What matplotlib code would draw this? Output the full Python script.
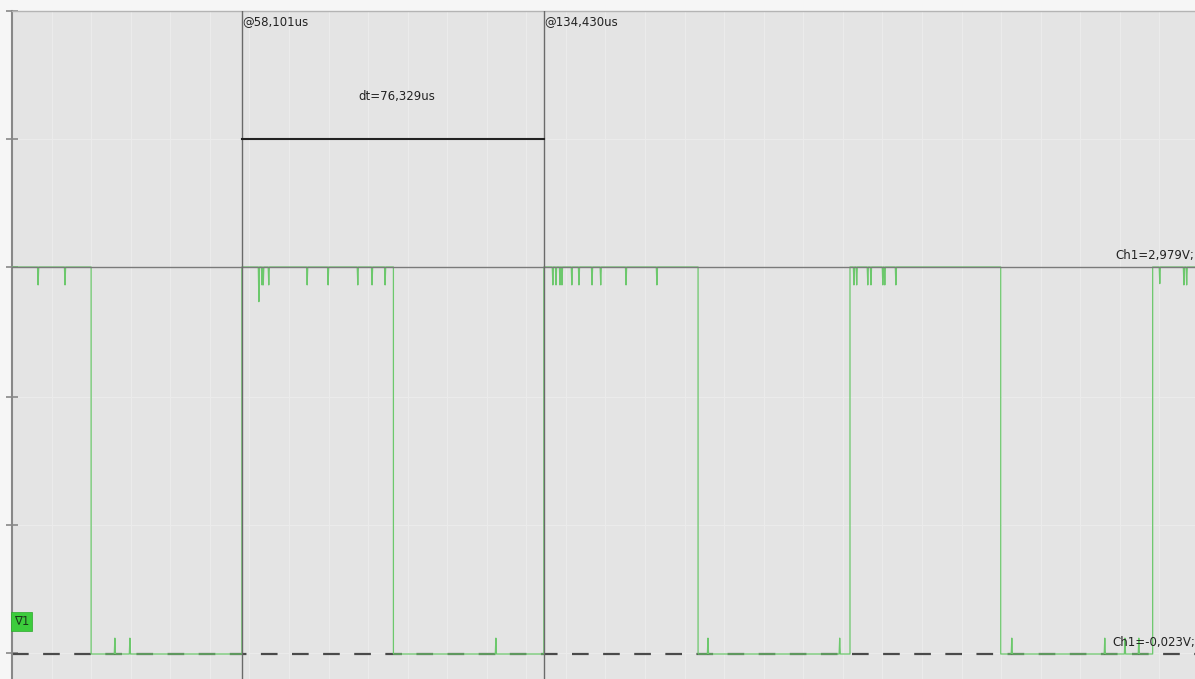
import numpy as np
import matplotlib
matplotlib.use("Agg")
import matplotlib.pyplot as plt

# niveles de referencia (V)
nivel_alto = 2.979
nivel_bajo = -0.023

# flancos de la senal (us), empieza en alto
flancos = [20.0, 58.1, 96.4, 134.43, 173.4, 211.8, 249.9, 288.3]

# glitches en nivel alto (us, V)
glitch_alto_t = [6.6, 13.4, 62.4, 63.2, 63.5, 64.9, 74.6, 79.9, 87.4, 91.0, 94.3,
                 136.7, 137.5, 138.5, 139.0, 141.5, 143.3, 146.6, 148.8, 155.2, 163.0,
                 212.8, 213.5, 216.3, 217.1, 220.1, 220.6, 223.4,
                 290.1, 296.2, 296.9]
glitch_alto_v = [2.84, 2.84, 2.71, 2.84, 2.84, 2.84, 2.84, 2.84, 2.84, 2.84, 2.84,
                 2.84, 2.84, 2.84, 2.84, 2.84, 2.84, 2.84, 2.84, 2.84, 2.84,
                 2.84, 2.84, 2.84, 2.84, 2.84, 2.84, 2.84,
                 2.85, 2.84, 2.84]

# glitches en nivel bajo (us, V)
glitch_bajo_t = [26.0, 29.8, 122.3, 175.9, 209.2, 252.7, 276.2, 281.3, 284.8]
glitch_bajo_v = [0.10, 0.10, 0.10, 0.10, 0.10, 0.10, 0.10, 0.10, 0.10]

# cursores
cursor_t = [58.101, 134.430]
cursor_txt = ["@58,101us", "@134,430us"]
dt_txt = "dt=76,329us"

# divisiones verticales de la pantalla (V)
div_v = [4.965, 3.972, 2.979, 1.970, 0.977, -0.015]

t_fin = 299.0
v_min, v_max = -0.217, 4.965


def Armar_Traza():
    # arma la traza con los flancos y los glitches
    bordes = [0.0] + flancos + [t_fin]
    ts = []
    vs = []
    for i in range(len(bordes) - 1):
        nivel = nivel_alto if i % 2 == 0 else nivel_bajo
        if i % 2 == 0:
            gt, gv = glitch_alto_t, glitch_alto_v
        else:
            gt, gv = glitch_bajo_t, glitch_bajo_v
        ts.append(bordes[i]); vs.append(nivel)
        for t, v in zip(gt, gv):
            if bordes[i] < t < bordes[i + 1]:
                ts += [t - 0.15, t, t + 0.15]
                vs += [nivel, v, nivel]
        ts.append(bordes[i + 1]); vs.append(nivel)
    return np.array(ts), np.array(vs)


fig = plt.figure(figsize=(11.95, 6.79), dpi=100, facecolor='#f6f6f6')
ax = fig.add_axes([12 / 1195, 0, 1183 / 1195, 668 / 679])
ax.set_facecolor('#e4e4e4')
ax.set_xlim(0, t_fin)
ax.set_ylim(v_min, v_max)

# grilla tenue
ax.set_xticks(np.arange(0, 300, 10))
ax.set_yticks(div_v)
ax.grid(True, color='#ebebeb', lw=0.8)
ax.set_axisbelow(True)
ax.tick_params(axis='x', length=0, labelbottom=False)
ax.tick_params(axis='y', direction='inout', length=8, width=1.2, color='#888888', labelleft=False)

for s in ['right', 'bottom']:
    ax.spines[s].set_visible(False)
ax.spines['left'].set_color('#888888')
ax.spines['left'].set_linewidth(1.5)
ax.spines['top'].set_color('#b4b4b4')
ax.spines['top'].set_linewidth(1.0)

# traza
ts, vs = Armar_Traza()
ax.plot(ts, vs, color='#6cc86c', lw=0.9, zorder=3)

# referencias
ax.axhline(nivel_alto, color='#7a7a7a', lw=1.0, zorder=4)
ax.axhline(nivel_bajo, color='#4a4a4a', lw=1.6, linestyle=(0, (7.5, 6.5)), zorder=2)

# cursores
for t, txt in zip(cursor_t, cursor_txt):
    ax.axvline(t, color='#6a6a6a', lw=1.0, zorder=4)
    ax.text(t + 0.1, 4.88, txt, fontsize=8.5, color='#222222', ha='left', va='center')
ax.plot(cursor_t, [div_v[1], div_v[1]], color='#222222', lw=1.5, zorder=4)
ax.text(sum(cursor_t) / 2 + 1.0, 4.30, dt_txt, fontsize=8.5, color='#222222', ha='center', va='center')

ax.text(278.9, nivel_alto + 0.09, "Ch1=2,979V;", fontsize=8.5, color='#222222',
        ha='left', va='center', clip_on=True)
ax.text(278.0, 0.07, "Ch1=-0,023V;", fontsize=8.5, color='#222222',
        ha='left', va='center', clip_on=True, zorder=5)

ax.text(0.5, 0.23, "\u22071", fontsize=8.5, color='#1a3a1a', ha='left', va='center',
        bbox=dict(boxstyle='square,pad=0.25', fc='#3ccc3c', ec='#2aa82a', lw=0.5))

plt.savefig("out.png", dpi=100, facecolor=fig.get_facecolor())
